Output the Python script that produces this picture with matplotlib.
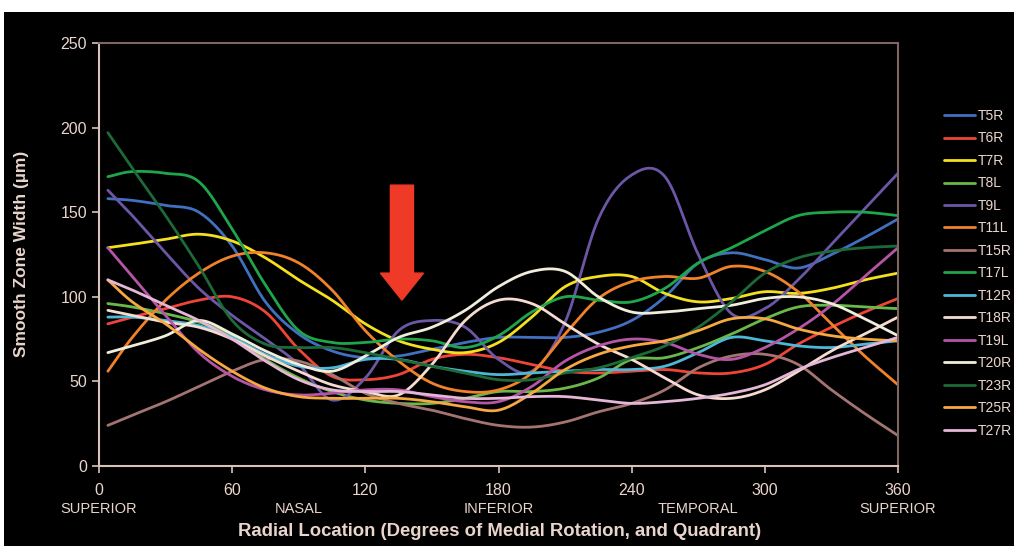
import numpy as np
import matplotlib
matplotlib.use('Agg')
from matplotlib import pyplot as plt
from matplotlib.patches import Rectangle, FancyArrow

plt.rcParams['font.family'] = ['Liberation Sans', 'DejaVu Sans']

# radial position of each measurement (degrees)
ANGLES = [4, 15, 30, 45, 60, 75, 90, 105, 120, 135, 150, 165, 180, 195, 210,
          225, 240, 255, 270, 285, 300, 315, 330, 345, 360]

# smooth zone width (um) per eye
T5R = [158, 157, 154, 150, 130, 97, 78, 68, 64, 65, 69, 73, 76, 76, 76, 79, 86, 100, 120, 126, 122, 117, 125, 135, 146]
T6R = [84, 88, 93, 98, 100, 91, 69, 53, 51, 54, 63, 66, 64, 60, 56, 55, 56, 57, 55, 55, 60, 72, 82, 91, 99]
T7R = [129, 131, 134, 137, 133, 123, 110, 98, 84, 74, 69, 67, 73, 88, 106, 112, 112, 102, 97, 99, 103, 102, 105, 110, 114]
T8L = [96, 94, 90, 85, 77, 63, 52, 44, 39, 37, 37, 40, 44, 44, 46, 52, 63, 64, 70, 78, 87, 94, 95, 94, 93]
T9L = [163, 148, 126, 105, 89, 75, 60, 39, 52, 80, 86, 82, 63, 56, 85, 146, 172, 171, 125, 90, 93, 110, 131, 152, 173]
T11L = [56, 76, 98, 114, 124, 126, 120, 104, 80, 62, 49, 44, 45, 55, 78, 99, 109, 112, 111, 118, 115, 103, 84, 65, 48]
T15R = [24, 30, 38, 47, 56, 63, 62, 54, 43, 37, 33, 28, 24, 23, 26, 32, 37, 45, 58, 65, 66, 60, 45, 31, 18]
T17L = [171, 174, 173, 168, 140, 107, 80, 73, 73, 75, 74, 70, 77, 91, 100, 98, 97, 105, 120, 129, 139, 148, 150, 150, 148]
T12R = [88, 88, 86, 83, 76, 66, 59, 58, 63, 63, 59, 56, 54, 55, 56, 57, 57, 59, 67, 76, 74, 71, 70, 72, 74]
T18R = [92, 89, 85, 82, 75, 65, 56, 48, 44, 42, 60, 86, 98, 96, 84, 72, 63, 52, 42, 40, 45, 56, 68, 78, 88]
T19L = [129, 112, 89, 67, 53, 45, 42, 43, 45, 45, 41, 38, 38, 47, 62, 71, 75, 73, 66, 63, 70, 81, 95, 112, 129]
T20R = [67, 71, 77, 86, 78, 68, 60, 56, 65, 76, 82, 92, 106, 115, 115, 100, 91, 91, 93, 95, 99, 100, 96, 87, 77]
T23R = [197, 176, 148, 118, 86, 72, 70, 70, 67, 63, 59, 55, 51, 51, 55, 58, 64, 71, 82, 97, 114, 123, 127, 129, 130]
T25R = [110, 97, 84, 69, 56, 46, 41, 40, 40, 40, 38, 35, 33, 43, 57, 66, 71, 74, 80, 87, 87, 81, 77, 75, 74]
T27R = [110, 104, 95, 86, 75, 62, 51, 45, 44, 44, 42, 40, 40, 41, 41, 39, 37, 38, 40, 43, 48, 57, 64, 70, 76]

SERIES = [
    ('T5R', T5R, '#4170C0'),
    ('T6R', T6R, '#EE4538'),
    ('T7R', T7R, '#F5E020'),
    ('T8L', T8L, '#6AB84A'),
    ('T9L', T9L, '#6C56A6'),
    ('T11L', T11L, '#F0822A'),
    ('T15R', T15R, '#A37472'),
    ('T17L', T17L, '#1FA64B'),
    ('T12R', T12R, '#4DB8D6'),
    ('T18R', T18R, '#F6DCD0'),
    ('T19L', T19L, '#B555A6'),
    ('T20R', T20R, '#F1EDDC'),
    ('T23R', T23R, '#1D6A38'),
    ('T25R', T25R, '#F5A940'),
    ('T27R', T27R, '#E4B7D7'),
]

QUADRANTS = [(0, 'SUPERIOR'), (90, 'NASAL'), (180, 'INFERIOR'), (270, 'TEMPORAL'), (360, 'SUPERIOR')]

TXT = '#EAD5CC'


def smooth(x, y, n=16):
    # Catmull-Rom curve through the points, like a spreadsheet "smoothed line"
    x = np.asarray(x, float)
    y = np.asarray(y, float)
    px = np.concatenate([[2 * x[0] - x[1]], x, [2 * x[-1] - x[-2]]])
    py = np.concatenate([[2 * y[0] - y[1]], y, [2 * y[-1] - y[-2]]])
    t = np.linspace(0, 1, n, endpoint=False)[:, None]
    xs, ys = [], []
    for i in range(1, len(px) - 2):
        for p, out in ((px, xs), (py, ys)):
            p0, p1, p2, p3 = p[i - 1], p[i], p[i + 1], p[i + 2]
            c = 0.5 * (2 * p1 + (-p0 + p2) * t + (2 * p0 - 5 * p1 + 4 * p2 - p3) * t ** 2
                       + (-p0 + 3 * p1 - 3 * p2 + p3) * t ** 3)
            out.append(c.ravel())
    xs.append([x[-1]])
    ys.append([y[-1]])
    return np.concatenate(xs), np.concatenate(ys)


W, H = 1014, 546
fig = plt.figure(figsize=(W / 100, H / 100), dpi=100, facecolor='white')
fig.add_artist(Rectangle((4 / W, 0), 1, (H - 12) / H, transform=fig.transFigure,
                         facecolor='black', edgecolor='none', zorder=-5))

ax = fig.add_axes([99 / W, (H - 466) / H, (898 - 99) / W, (466 - 43) / H])
ax.set_facecolor('black')

handles = []
for name, vals, col in SERIES:
    sx, sy = smooth(ANGLES, vals)
    ln, = ax.plot(sx, sy, color=col, lw=2.0, solid_capstyle='round', label=name)
    handles.append(ln)

ax.set_xlim(0, 360)
ax.set_ylim(0, 250)
ax.set_xticks(range(0, 361, 60))
ax.set_yticks(range(0, 251, 50))
ax.tick_params(colors='#D8C2BA', labelcolor=TXT, labelsize=11.5, length=5, width=1.2,
               direction='out')
ax.tick_params(axis='x', pad=7)
for s in ('left', 'bottom'):
    ax.spines[s].set_color('#D8C2BA')
    ax.spines[s].set_linewidth(1.5)
for s in ('top', 'right'):
    ax.spines[s].set_color('#7E6763')
    ax.spines[s].set_linewidth(1.5)

xt = ax.get_xaxis_transform()
for deg, lab in QUADRANTS:
    ax.text(deg, -43 / 423, lab, transform=xt, ha='center', va='center',
            color=TXT, fontsize=10.5, clip_on=False)

fig.text(500 / W, 1 - 531 / H, 'Radial Location (Degrees of Medial Rotation, and Quadrant)',
         ha='center', va='center', color=TXT, fontsize=13.3, fontweight='bold')
fig.text(22 / W, 1 - 254 / H, 'Smooth Zone Width (\u00b5m)', ha='center', va='center',
         rotation=90, color=TXT, fontsize=12.5, fontweight='bold')

# red pointer over the nasal-inferior dip
ax.add_patch(FancyArrow(136.5, 166, 0, -68, width=10.4, head_width=19.4, head_length=16,
                        length_includes_head=True, color='#EE3A26', zorder=6))

fig.legend(handles=handles, loc='upper left', bbox_to_anchor=(944 / W, 1 - 109 / H),
           frameon=False, fontsize=10, labelcolor=TXT, handlelength=2.2,
           handletextpad=0.25, labelspacing=0.61, borderaxespad=0, borderpad=0)

fig.savefig('out.png', dpi=100, facecolor=fig.get_facecolor())
